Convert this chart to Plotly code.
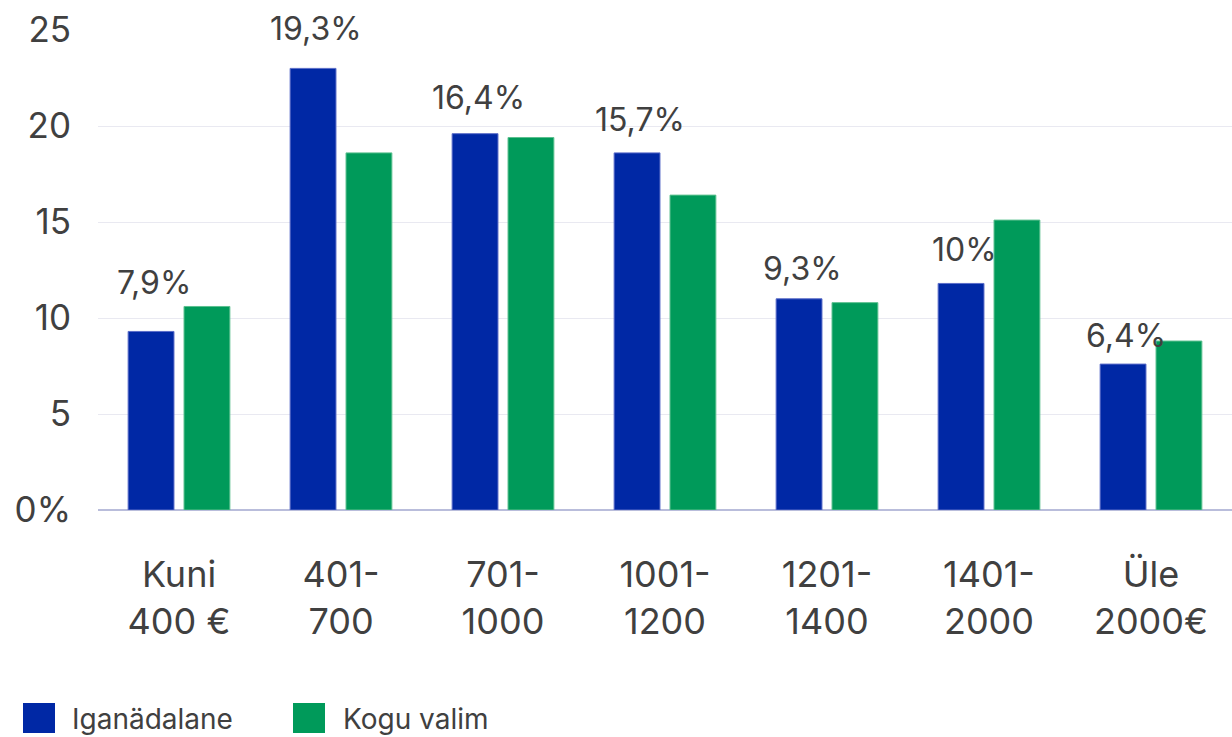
import plotly.graph_objects as go

categories = ["Kuni<br>400 €", "401-<br>700", "701-<br>1000", "1001-<br>1200",
              "1201-<br>1400", "1401-<br>2000", "Üle<br>2000€"]
iganadalane = [9.3, 23.0, 19.6, 18.6, 11.0, 11.8, 7.6]
kogu_valim = [10.6, 18.6, 19.4, 16.4, 10.8, 15.1, 8.8]
label_texts = ["7,9%", "19,3%", "16,4%", "15,7%", "9,3%", "10%", "6,4%"]
y_ticks = [0, 5, 10, 15, 20, 25]
y_tick_labels = ["0%", "5", "10", "15", "20", "25"]

# style / layout settings
label_yshift = [27, 18, 15, 12, 9, 12, 7]
BLUE = "#0028A5"
GREEN = "#009A5A"
TEXT = "#404040"
FONT = "Inter"
W, H = 1232, 737
ML, MR, MT, MB = 98, 0, 30, 227

fig = go.Figure()
fig.add_trace(go.Bar(x=categories, y=iganadalane, name="Iganädalane",
                     marker=dict(color=BLUE, line=dict(color="#5a6cc8", width=1)),
                     showlegend=False))
fig.add_trace(go.Bar(x=categories, y=kogu_valim, name="Kogu valim",
                     marker=dict(color=GREEN, line=dict(color="#5cc08f", width=1)),
                     showlegend=False))

for cat, val, txt, ys in zip(categories, iganadalane, label_texts, label_yshift):
    fig.add_annotation(x=cat, y=val, text=txt, showarrow=False,
                       xanchor="center", yanchor="bottom", xshift=-25, yshift=ys,
                       font=dict(family=FONT, size=32, color=TEXT))

pw = W - ML - MR
ph = H - MT - MB


def px_x(p):
    return (p - ML) / pw


def px_y(p):
    return (H - MB - p) / ph


legend_items = [("Iganädalane", BLUE, 23, 70), ("Kogu valim", GREEN, 293, 341)]
for name, col, sx, tx in legend_items:
    fig.add_shape(type="rect", xref="paper", yref="paper",
                  x0=px_x(sx), x1=px_x(sx + 32), y0=px_y(733), y1=px_y(703),
                  fillcolor=col, line=dict(width=0))
    fig.add_annotation(xref="paper", yref="paper", x=px_x(tx), y=px_y(719),
                       text=name, showarrow=False, xanchor="left", yanchor="middle",
                       font=dict(family=FONT, size=28, color=TEXT))

fig.update_layout(
    width=W, height=H,
    margin=dict(l=ML, r=MR, t=MT, b=MB, pad=0),
    paper_bgcolor="white", plot_bgcolor="white",
    barmode="group", bargap=0.31, bargroupgap=0.18,
    font=dict(family=FONT, color=TEXT),
    showlegend=False,
)
fig.update_xaxes(showgrid=False, showline=False, ticks="",
                 tickfont=dict(family=FONT, size=36, color=TEXT),
                 ticklabelstandoff=40)
fig.update_yaxes(range=[0, 25], tickvals=y_ticks, ticktext=y_tick_labels,
                 showgrid=True, gridcolor="#e9e9f1", gridwidth=1,
                 zeroline=True, zerolinecolor="#b9bddb", zerolinewidth=2,
                 showline=False, ticks="",
                 tickfont=dict(family=FONT, size=35, color=TEXT),
                 ticklabelstandoff=26)

fig.write_html("out.html", config={"displayModeBar": False},
               post_script="document.body.style.margin='0';document.body.style.overflow='hidden';")
